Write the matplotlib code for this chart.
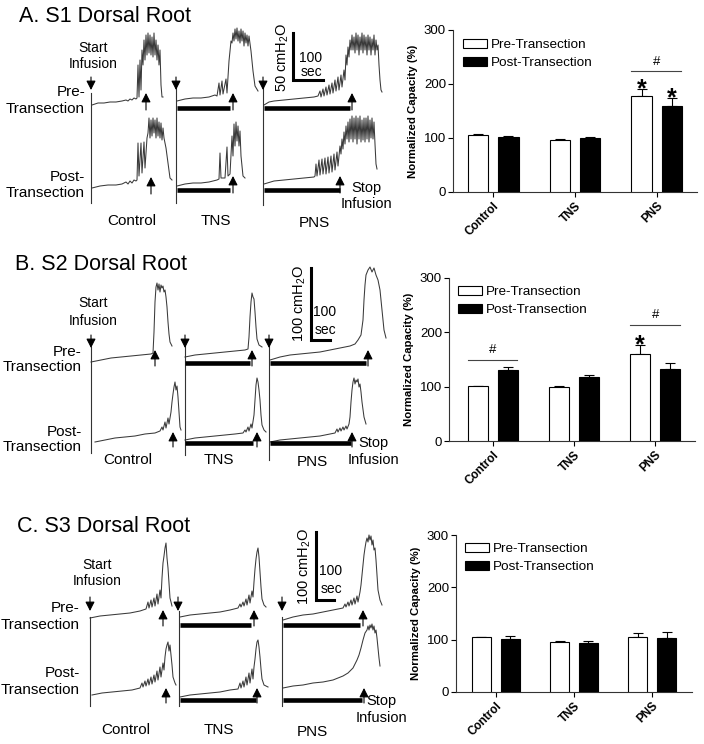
import matplotlib
matplotlib.use('Agg')
import matplotlib.pyplot as plt
import numpy as np

plt.rcParams['font.family'] = ['Liberation Sans', 'DejaVu Sans']
plt.rcParams['mathtext.fontset'] = 'custom'
plt.rcParams['mathtext.rm'] = 'Liberation Sans'
plt.rcParams['mathtext.it'] = 'Liberation Sans:italic'

# ---------------- bar chart data ----------------
categories = ['Control', 'TNS', 'PNS']
series_labels = ['Pre-Transection', 'Post-Transection']

s1_pre = [105, 96, 178]
s1_pre_err = [1.5, 3, 12]
s1_post = [102, 100, 159]
s1_post_err = [2, 2, 15]
s1_star_pre = [False, False, True]
s1_star_post = [False, False, True]
s1_hash = [None, None, 224]

s2_pre = [101, 100, 160]
s2_pre_err = [1, 1, 16]
s2_post = [131, 117, 132]
s2_post_err = [6, 5, 12]
s2_star_pre = [False, False, True]
s2_star_post = [False, False, False]
s2_hash = [150, None, 214]

s3_pre = [105, 95, 105]
s3_pre_err = [0.5, 2, 8]
s3_post = [101, 93, 104]
s3_post_err = [6, 4, 11]
s3_star_pre = [False, False, False]
s3_star_post = [False, False, False]
s3_hash = [None, None, None]

# ---------------- cystometrogram traces (time px, pressure px above start) ----------------
A_ctrl_pre = [(0,0),(6,2),(12,2),(18,3),(24,3),(30,4),(34,5),(36,4),(38,6),(40,5),(42,7),(44,6),(45,7),(46,40),(47,8),(48,45),(49,15),(50,55),(51,40),(52,65),(53,45),(54,70),(55,50),(56,72),(57,52),(58,70),(59,50),(60,68),(61,48),(62,72),(63,50),(64,65),(65,45),(66,60),(67,40),(68,55),(69,20),(70,8),(71,8)]
A_ctrl_post = [(0,0),(8,2),(16,3),(24,3),(30,4),(34,6),(36,4),(38,7),(40,5),(42,8),(44,7),(45,8),(46,45),(47,12),(49,45),(50,15),(52,46),(53,20),(55,50),(56,55),(57,70),(58,50),(59,68),(60,52),(61,70),(62,55),(63,68),(64,50),(65,70),(66,52),(67,66),(68,50),(69,65),(70,48),(71,60),(72,50),(74,40),(76,25),(78,10),(80,8)]
A_tns_pre = [(0,0),(8,2),(16,3),(24,3),(32,4),(38,6),(40,5),(42,18),(43,6),(45,20),(46,7),(49,22),(50,8),(52,40),(53,50),(54,60),(55,58),(56,68),(57,60),(58,72),(59,62),(60,73),(61,60),(62,70),(63,58),(64,72),(65,60),(66,70),(67,55),(68,68),(69,58),(70,66),(71,55),(72,65),(74,50),(76,30),(78,15),(81,10)]
A_tns_post = [(0,0),(8,2),(16,3),(24,3),(32,4),(40,6),(42,7),(43,33),(44,8),(48,8),(50,39),(51,10),(53,12),(55,50),(56,30),(57,62),(58,40),(59,64),(60,45),(61,60),(62,40),(63,55),(64,30),(65,20),(66,10),(68,8)]
A_pns_pre = [(0,0),(5,3),(10,4),(20,5),(30,6),(40,7),(50,8),(54,9),(56,14),(57,8),(59,16),(60,9),(62,18),(63,10),(65,20),(66,11),(68,22),(69,12),(71,25),(72,14),(74,28),(75,15),(77,30),(78,18),(80,35),(81,25),(82,50),(83,40),(84,58),(85,48),(86,65),(87,55),(88,70),(89,55),(90,68),(91,52),(92,72),(93,55),(94,70),(95,50),(96,68),(97,55),(98,72),(99,52),(100,70),(101,55),(102,68),(103,50),(104,70),(105,55),(106,68),(107,50),(108,66),(109,55),(110,70),(111,50),(112,65),(113,55),(114,60),(115,40),(116,25),(117,15),(118,13)]
A_pns_post = [(0,0),(10,3),(20,4),(30,5),(40,6),(50,7),(51,8),(52,20),(53,8),(55,24),(56,9),(58,25),(59,10),(61,26),(62,10),(64,27),(65,11),(67,28),(68,12),(70,30),(71,14),(73,32),(74,18),(76,38),(77,30),(78,45),(79,35),(80,52),(81,40),(82,58),(83,45),(84,62),(85,42),(86,65),(87,45),(88,68),(89,42),(90,66),(91,45),(92,68),(93,40),(94,66),(95,45),(96,68),(97,42),(98,64),(99,44),(100,66),(101,42),(102,66),(103,45),(104,68),(105,42),(106,64),(107,46),(108,66),(109,45),(110,62),(111,40),(112,20),(113,15)]

B_ctrl_pre = [(0,0),(10,2),(20,4),(30,5),(40,6),(50,7),(60,8),(62,9),(63,30),(64,60),(65,75),(66,79),(67,72),(68,78),(69,70),(70,77),(71,74),(72,76),(73,70),(74,72),(75,65),(76,55),(77,40),(78,28),(79,20),(81,16)]
B_ctrl_post = [(0,0),(10,2),(20,4),(30,5),(40,6),(50,8),(60,9),(65,11),(67,15),(68,12),(70,20),(71,14),(73,24),(74,18),(76,30),(77,40),(78,48),(79,55),(80,60),(81,52),(82,56),(83,45),(84,30),(85,15),(86,12)]
B_tns_pre = [(0,0),(10,2),(20,3),(30,4),(40,5),(50,6),(60,7),(63,8),(64,20),(65,40),(66,55),(67,64),(68,60),(69,58),(70,45),(71,30),(72,18),(74,12),(77,10)]
B_tns_post = [(0,0),(10,2),(20,3),(30,4),(40,5),(50,6),(58,7),(60,10),(61,8),(63,13),(64,9),(66,16),(67,12),(69,25),(70,40),(71,55),(72,62),(73,58),(74,50),(75,40),(76,25),(77,15),(79,10),(81,8)]
B_pns_pre = [(0,0),(10,3),(20,5),(30,6),(40,7),(50,8),(60,10),(70,12),(80,14),(85,16),(88,20),(91,25),(93,40),(94,60),(95,75),(96,85),(98,90),(100,93),(102,88),(104,92),(106,85),(108,80),(110,70),(112,50),(114,30),(116,22)]
B_pns_post = [(0,0),(10,2),(20,3),(30,4),(40,5),(50,6),(60,8),(65,9),(67,13),(68,10),(70,14),(71,11),(73,15),(74,12),(76,16),(77,13),(79,18),(80,25),(81,40),(82,52),(83,60),(84,64),(85,58),(86,62),(87,60),(88,63),(89,55),(90,58),(91,50),(92,40),(94,25),(96,18)]

C_ctrl_pre = [(0,0),(10,2),(20,3),(30,4),(40,5),(50,7),(56,9),(58,16),(59,10),(61,18),(62,11),(64,20),(65,12),(67,24),(68,14),(70,28),(71,20),(72,40),(73,55),(74,62),(75,70),(76,75),(77,60),(78,50),(79,35),(80,20),(82,12)]
C_ctrl_post = [(0,0),(10,2),(20,3),(30,4),(40,5),(48,7),(50,12),(51,8),(53,14),(54,9),(56,16),(57,10),(59,18),(60,11),(62,20),(63,13),(65,24),(66,15),(68,28),(69,18),(71,32),(72,25),(73,38),(74,46),(75,50),(76,53),(77,44),(78,50),(79,40),(80,30),(81,18),(83,12),(84,10)]
C_tns_pre = [(0,0),(10,2),(20,3),(30,4),(40,5),(50,7),(58,9),(60,13),(61,10),(63,15),(64,11),(66,18),(67,12),(69,22),(70,14),(72,26),(73,20),(74,35),(75,48),(76,58),(77,65),(78,69),(79,60),(80,45),(81,30),(82,18),(84,12),(86,10)]
C_tns_post = [(0,0),(10,2),(20,3),(30,4),(40,5),(50,7),(58,8),(60,14),(61,9),(63,16),(64,10),(66,20),(67,12),(69,24),(70,14),(72,28),(73,18),(74,30),(75,38),(76,48),(77,55),(78,57),(79,50),(80,40),(81,28),(82,18),(84,12),(88,10)]
C_pns_pre = [(0,0),(10,3),(20,5),(30,6),(40,8),(50,10),(60,12),(62,16),(63,13),(65,18),(66,14),(68,20),(69,15),(71,22),(72,16),(74,24),(75,18),(77,28),(78,35),(79,45),(80,55),(81,65),(82,72),(83,78),(84,82),(85,78),(86,85),(87,80),(88,84),(89,75),(90,80),(91,70),(92,72),(93,60),(94,45),(95,30),(97,20),(99,15)]
C_pns_post = [(0,0),(10,2),(20,3),(30,5),(40,6),(50,8),(55,10),(60,12),(65,15),(68,18),(70,20),(72,24),(74,28),(76,33),(78,40),(80,48),(82,55),(84,58),(85,62),(86,58),(87,63),(88,60),(89,64),(90,58),(91,62),(92,55),(93,58),(94,50),(95,40),(96,30),(97,22)]

# ---------------- layout (figure pixels) ----------------
W, H = 704, 744
fig = plt.figure(figsize=(W / 100, H / 100), dpi=100)
ov = fig.add_axes([0, 0, 1, 1])
ov.set_xlim(0, W)
ov.set_ylim(H, 0)
ov.axis('off')

TRACE_COL = '#3a3a3a'

panels = [
    dict(title='A. S1 Dorsal Root', title_xy=(19, 16),
         traces=[(A_ctrl_pre, 92, 105), (A_ctrl_post, 92, 188), (A_tns_pre, 177, 101),
                 (A_tns_post, 177, 186), (A_pns_pre, 264, 105), (A_pns_post, 264, 184)],
         vlines=[(91, 93, 203), (176, 86, 203), (263, 86, 205)],
         down=[(91, 77, 90), (176, 77, 90), (263, 77, 90)],
         up=[(146, 110, 93), (151, 194, 177), (233, 110, 93), (233, 193, 176), (352, 110, 93), (340, 193, 176)],
         stim=[(177, 230, 108), (177, 230, 190), (264, 350, 108), (264, 340, 190)],
         start=(93, 48, 64), rowlab=(85, 92, 109, 177, 193),
         stop=(366, 188, 204),
         scale=(293, 33, 80, 323), scale_txt='50 cmH$_2$O', scale_txt_xy=(283, 57), sec_xy=(311, 58, 72),
         cols=[(132, 221), (216, 221), (314, 223)]),
    dict(title='B. S2 Dorsal Root', title_xy=(15, 265),
         traces=[(B_ctrl_pre, 91, 362), (B_ctrl_post, 95, 442), (B_tns_pre, 185, 357),
                 (B_tns_post, 185, 440), (B_pns_pre, 270, 360), (B_pns_post, 270, 442)],
         vlines=[(91, 347, 453), (185, 343, 455), (269, 343, 460)],
         down=[(91, 335, 348), (185, 335, 348), (269, 335, 348)],
         up=[(155, 366, 350), (173, 447, 432), (252, 366, 350), (257, 447, 432), (368, 366, 350), (352, 447, 432)],
         stim=[(185, 250, 363), (185, 253, 443), (270, 366, 363), (270, 351, 443)],
         start=(93, 303, 321), rowlab=(82, 352, 367, 432, 447),
         stop=(373, 443, 460),
         scale=(311, 268, 340, 330), scale_txt='100 cmH$_2$O', scale_txt_xy=(300, 303), sec_xy=(325, 312, 330),
         cols=[(128, 460), (219, 460), (312, 462)]),
    dict(title='C. S3 Dorsal Root', title_xy=(17, 527),
         traces=[(C_ctrl_pre, 90, 618), (C_ctrl_post, 92, 695), (C_tns_pre, 180, 617),
                 (C_tns_post, 180, 697), (C_pns_pre, 283, 620), (C_pns_post, 283, 688)],
         vlines=[(90, 617, 706), (179, 611, 706), (282, 617, 706)],
         down=[(90, 597, 611), (178, 597, 611), (282, 597, 611)],
         up=[(163, 626, 610), (166, 703, 688), (254, 626, 610), (257, 703, 688), (363, 626, 610), (364, 703, 688)],
         stim=[(180, 251, 625), (180, 256, 700), (283, 360, 625), (283, 362, 700)],
         start=(97, 565, 581), rowlab=(80, 608, 625, 673, 690),
         stop=(381, 701, 718),
         scale=(316, 532, 600, 334), scale_txt='100 cmH$_2$O', scale_txt_xy=(305, 566), sec_xy=(331, 571, 589),
         cols=[(126, 730), (219, 730), (312, 732)]),
]

arrow_kw = dict(arrowstyle='-|>,head_length=0.55,head_width=0.28', color='black', lw=0.8,
                shrinkA=0, shrinkB=0)

for p in panels:
    ov.text(p['title_xy'][0], p['title_xy'][1], p['title'], fontsize=15.5, ha='left', va='center')
    for tr, x0, y0 in p['traces']:
        t = np.array([a for a, b in tr], dtype=float)
        h = np.array([b for a, b in tr], dtype=float)
        ov.plot(x0 + t, y0 - h, color=TRACE_COL, lw=0.75, solid_joinstyle='round')
    for x, y1, y2 in p['vlines']:
        ov.plot([x, x], [y1, y2], color='#333333', lw=0.8)
    for x, y1, y2 in p['down']:
        ov.annotate('', xy=(x, y2), xytext=(x, y1), arrowprops=arrow_kw)
    for x, y1, y2 in p['up']:
        ov.annotate('', xy=(x, y2), xytext=(x, y1), arrowprops=arrow_kw)
    for x1, x2, y in p['stim']:
        ov.plot([x1, x2], [y, y], color='black', lw=3.3, solid_capstyle='butt')
    sx, sy1, sy2 = p['start']
    ov.text(sx, sy1, 'Start', fontsize=10, ha='center', va='center')
    ov.text(sx, sy2, 'Infusion', fontsize=10, ha='center', va='center')
    rx, r1, r2, r3, r4 = p['rowlab']
    ov.text(rx, r1, 'Pre-', fontsize=11, ha='right', va='center')
    ov.text(rx, r2, 'Transection', fontsize=11, ha='right', va='center')
    ov.text(rx, r3, 'Post-', fontsize=11, ha='right', va='center')
    ov.text(rx, r4, 'Transection', fontsize=11, ha='right', va='center')
    stx, st1, st2 = p['stop']
    ov.text(stx, st1, 'Stop', fontsize=10.5, ha='center', va='center')
    ov.text(stx, st2, 'Infusion', fontsize=10.5, ha='center', va='center')
    bx, by1, by2, bx2 = p['scale']
    ov.plot([bx, bx, bx2], [by1, by2, by2], color='black', lw=2.2, solid_joinstyle='miter')
    ov.text(p['scale_txt_xy'][0], p['scale_txt_xy'][1], p['scale_txt'], fontsize=10.5, rotation=90,
            ha='center', va='center')
    scx, s100, ssec = p['sec_xy']
    ov.text(scx, s100, '100', fontsize=10, ha='center', va='center')
    ov.text(scx, ssec, 'sec', fontsize=10, ha='center', va='center')
    for (cx, cy), lab in zip(p['cols'], categories):
        ov.text(cx, cy, lab, fontsize=11, ha='center', va='center')

# ---------------- bar charts ----------------
bar_axes = [
    dict(rect=(453, 30, 697, 192), xlim=(-0.49, 2.49),
         pre=s1_pre, pre_err=s1_pre_err, post=s1_post, post_err=s1_post_err,
         star_pre=s1_star_pre, star_post=s1_star_post, hashes=s1_hash, leg=(463, 39)),
    dict(rect=(449, 278, 695, 441), xlim=(-0.54, 2.49),
         pre=s2_pre, pre_err=s2_pre_err, post=s2_post, post_err=s2_post_err,
         star_pre=s2_star_pre, star_post=s2_star_post, hashes=s2_hash, leg=(458, 286)),
    dict(rect=(456, 535, 692, 692), xlim=(-0.51, 2.51),
         pre=s3_pre, pre_err=s3_pre_err, post=s3_post, post_err=s3_post_err,
         star_pre=s3_star_pre, star_post=s3_star_post, hashes=s3_hash, leg=(465, 543)),
]

width = 0.25
off = 0.185
x = np.arange(len(categories))
for b in bar_axes:
    l, t, r, bt = b['rect']
    ax = fig.add_axes([l / W, 1 - bt / H, (r - l) / W, (bt - t) / H])
    h1 = ax.bar(x - off, b['pre'], width, color='white', edgecolor='black', lw=0.8, zorder=3)
    h2 = ax.bar(x + off, b['post'], width, color='black', edgecolor='black', lw=0.8, zorder=3)
    zeros = np.zeros(len(x))
    ax.errorbar(x - off, b['pre'], yerr=[zeros, b['pre_err']], fmt='none', ecolor='black',
                elinewidth=0.8, capsize=3.5, capthick=0.8, zorder=2)
    ax.errorbar(x + off, b['post'], yerr=[zeros, b['post_err']], fmt='none', ecolor='black',
                elinewidth=0.8, capsize=3.5, capthick=0.8, zorder=2)
    for i in range(len(x)):
        if b['star_pre'][i]:
            ax.annotate('*', xy=(x[i] - off, b['pre'][i] + b['pre_err'][i]), xytext=(0, -5),
                        textcoords='offset points', ha='center', va='baseline',
                        fontsize=18, fontweight='bold')
        if b['star_post'][i]:
            ax.annotate('*', xy=(x[i] + off, b['post'][i] + b['post_err'][i]), xytext=(0, -5),
                        textcoords='offset points', ha='center', va='baseline',
                        fontsize=18, fontweight='bold')
        if b['hashes'][i] is not None:
            yh = b['hashes'][i]
            ax.plot([x[i] - 0.31, x[i] + 0.30], [yh, yh], color='#444444', lw=0.8)
            ax.text(x[i], yh + 6, '#', ha='center', va='bottom', fontsize=9.5)
    ax.set_xlim(*b['xlim'])
    ax.set_ylim(0, 300)
    ax.set_yticks([0, 100, 200, 300])
    ax.set_yticklabels(['0', '100', '200', '300'], fontsize=9.5)
    ax.set_xticks(x)
    ax.set_xticklabels(categories, rotation=45, ha='right', va='top', rotation_mode='anchor',
                       fontweight='bold', fontsize=8.5)
    ax.tick_params(axis='y', length=3.5, width=0.8, pad=1.5)
    ax.tick_params(axis='x', length=3.5, width=0.8, pad=2)
    for s in ['top', 'right']:
        ax.spines[s].set_visible(False)
    for s in ['left', 'bottom']:
        ax.spines[s].set_linewidth(0.8)
        ax.spines[s].set_color('#333333')
    ax.set_ylabel('Normalized Capacity (%)', fontweight='bold', fontsize=8.2, labelpad=4)
    lx, ly = b['leg']
    ax.legend([h1, h2], series_labels, loc='upper left', bbox_to_anchor=(lx / W, 1 - ly / H),
              bbox_transform=fig.transFigure, frameon=False, fontsize=9.7, handlelength=1.8,
              handleheight=0.6, handletextpad=0.25, labelspacing=0.45, borderpad=0, borderaxespad=0)

fig.savefig('out.png', dpi=100)
